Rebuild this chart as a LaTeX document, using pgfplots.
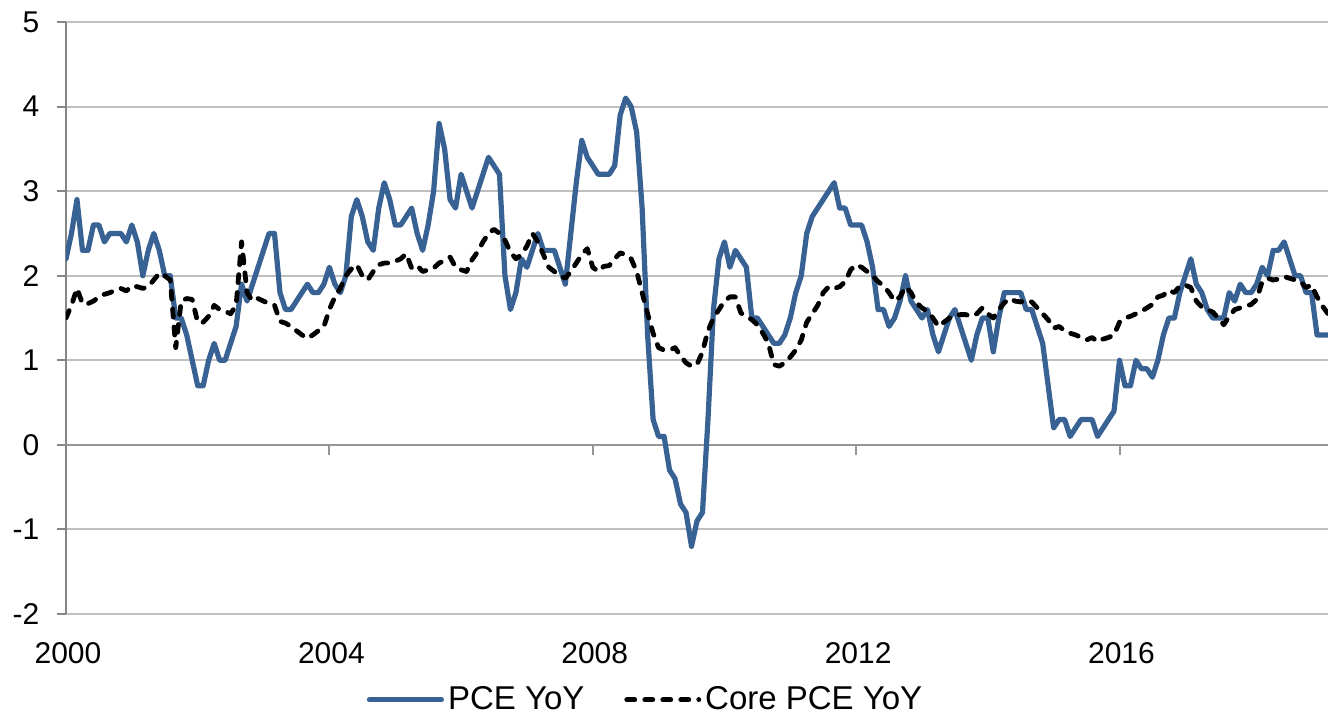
\documentclass[border=0pt]{standalone}
\usepackage{fontspec}
\setmainfont{Liberation Sans}
\usepackage{pgfplots}
\usepackage{pgfplotstable}
\pgfplotsset{compat=1.18}
\definecolor{pceblue}{RGB}{56,97,148}
\definecolor{gridgray}{RGB}{191,191,191}
\definecolor{axisgray}{RGB}{134,134,134}
\definecolor{zerogray}{RGB}{150,150,150}
\pgfplotstableread{
m pce core
0 2.2 1.50
1 2.5 1.65
2 2.9 1.85
3 2.3 1.67
4 2.3 1.67
5 2.6 1.70
6 2.6 1.75
7 2.4 1.78
8 2.5 1.80
9 2.5 1.83
10 2.5 1.85
11 2.4 1.82
12 2.6 1.88
13 2.4 1.87
14 2.0 1.85
15 2.3 1.87
16 2.5 1.95
17 2.3 2.03
18 2.0 2.00
19 2.0 1.95
20 1.5 1.15
21 1.5 1.70
22 1.3 1.73
23 1.0 1.72
24 0.7 1.45
25 0.7 1.45
26 1.0 1.52
27 1.2 1.65
28 1.0 1.60
29 1.0 1.58
30 1.2 1.55
31 1.4 1.65
32 1.9 2.40
33 1.7 1.80
34 1.9 1.70
35 2.1 1.73
36 2.3 1.70
37 2.5 1.67
38 2.5 1.65
39 1.8 1.46
40 1.6 1.44
41 1.6 1.40
42 1.7 1.35
43 1.8 1.30
44 1.9 1.26
45 1.8 1.30
46 1.8 1.35
47 1.9 1.40
48 2.1 1.60
49 1.9 1.75
50 1.8 1.85
51 2.0 2.00
52 2.7 2.08
53 2.9 2.13
54 2.7 2.00
55 2.4 1.95
56 2.3 2.05
57 2.8 2.13
58 3.1 2.15
59 2.9 2.15
60 2.6 2.17
61 2.6 2.20
62 2.7 2.26
63 2.8 2.09
64 2.5 2.12
65 2.3 2.05
66 2.6 2.07
67 3.0 2.09
68 3.8 2.15
69 3.5 2.18
70 2.9 2.22
71 2.8 2.10
72 3.2 2.07
73 3.0 2.05
74 2.8 2.19
75 3.0 2.28
76 3.2 2.40
77 3.4 2.50
78 3.3 2.55
79 3.2 2.50
80 2.0 2.42
81 1.6 2.28
82 1.8 2.20
83 2.2 2.25
84 2.1 2.35
85 2.3 2.50
86 2.5 2.40
87 2.3 2.25
88 2.3 2.10
89 2.3 2.05
90 2.1 2.00
91 1.9 1.97
92 2.5 2.05
93 3.1 2.15
94 3.6 2.25
95 3.4 2.32
96 3.3 2.10
97 3.2 2.05
98 3.2 2.11
99 3.2 2.12
100 3.3 2.20
101 3.9 2.27
102 4.1 2.25
103 4.0 2.20
104 3.7 2.05
105 2.8 1.80
106 1.3 1.55
107 0.3 1.32
108 0.1 1.15
109 0.1 1.12
110 -0.3 1.12
111 -0.4 1.15
112 -0.7 1.05
113 -0.8 0.97
114 -1.2 0.93
115 -0.9 0.95
116 -0.8 1.10
117 0.3 1.35
118 1.6 1.50
119 2.2 1.60
120 2.4 1.70
121 2.1 1.75
122 2.3 1.75
123 2.2 1.56
124 2.1 1.52
125 1.5 1.48
126 1.5 1.42
127 1.4 1.32
128 1.3 1.20
129 1.2 0.95
130 1.2 0.93
131 1.3 0.97
132 1.5 1.04
133 1.8 1.12
134 2.0 1.24
135 2.5 1.45
136 2.7 1.55
137 2.8 1.65
138 2.9 1.80
139 3.0 1.87
140 3.1 1.85
141 2.8 1.87
142 2.8 1.93
143 2.6 2.07
144 2.6 2.13
145 2.6 2.10
146 2.4 2.05
147 2.1 2.00
148 1.6 1.93
149 1.6 1.88
150 1.4 1.80
151 1.5 1.70
152 1.7 1.75
153 2.0 1.87
154 1.7 1.80
155 1.6 1.68
156 1.5 1.62
157 1.6 1.58
158 1.3 1.50
159 1.1 1.40
160 1.3 1.45
161 1.5 1.50
162 1.6 1.53
163 1.4 1.54
164 1.2 1.54
165 1.0 1.52
166 1.3 1.55
167 1.5 1.62
168 1.5 1.55
169 1.1 1.50
170 1.5 1.60
171 1.8 1.68
172 1.8 1.73
173 1.8 1.70
174 1.8 1.69
175 1.6 1.71
176 1.6 1.69
177 1.4 1.62
178 1.2 1.55
179 0.7 1.48
180 0.2 1.38
181 0.3 1.40
182 0.3 1.35
183 0.1 1.32
184 0.2 1.30
185 0.3 1.27
186 0.3 1.24
187 0.3 1.27
188 0.1 1.22
189 0.2 1.25
190 0.3 1.27
191 0.4 1.30
192 1.0 1.45
193 0.7 1.50
194 0.7 1.52
195 1.0 1.55
196 0.9 1.58
197 0.9 1.62
198 0.8 1.66
199 1.0 1.75
200 1.3 1.77
201 1.5 1.83
202 1.5 1.80
203 1.8 1.88
204 2.0 1.89
205 2.2 1.86
206 1.9 1.70
207 1.8 1.63
208 1.6 1.60
209 1.5 1.57
210 1.5 1.50
211 1.5 1.42
212 1.8 1.52
213 1.7 1.60
214 1.9 1.62
215 1.8 1.64
216 1.8 1.66
217 1.9 1.72
218 2.1 1.93
219 2.0 1.97
220 2.3 1.95
221 2.3 1.96
222 2.4 1.99
223 2.2 1.97
224 2.0 1.95
225 2.0 1.93
226 1.8 1.86
227 1.8 1.89
228 1.3 1.75
229 1.3 1.64
230 1.3 1.55
}\data
\begin{document}
\begin{tikzpicture}
\useasboundingbox (-33pt,-50pt) rectangle (631pt,307pt);
\begin{axis}[
  at={(0pt,0pt)}, anchor=south west,
  scale only axis, width=631pt, height=296pt,
  xmin=0, xmax=230, ymin=-2, ymax=5,
  separate axis lines,
  axis x line*=bottom, axis y line*=left,
  x axis line style={draw=gridgray, line width=1pt, -},
  y axis line style={draw=axisgray, line width=1pt, -},
  ytick={-2,-1,0,1,2,3,4,5},
  yticklabels={-2,-1,0,1,2,3,4,5},
  xtick={0,48,96,144,192},
  xticklabels={2000,2004,2008,2012,2016},
  ymajorgrids, grid style={draw=gridgray, line width=1pt},
  tick align=outside, major tick length=4.5pt,
  xtick style={draw=none},
  ytick style={draw=axisgray, line width=1pt},
  tick label style={font=\fontsize{15}{18}\selectfont, text=black},
  yticklabel style={xshift=-5.3pt},
  xticklabel style={yshift=-6.2pt, xshift=1pt},
  legend columns=2,
  legend style={at={(0.46,-0.145)}, anchor=center, draw=none, fill=none,
    font=\fontsize{16.5}{19}\selectfont,
    /tikz/every even column/.append style={column sep=18pt}},
  legend image code/.code={\draw[#1] (0pt,0pt) -- (36pt,0pt);},
]
\draw[zerogray, line width=1.25pt] (axis cs:0,0) -- (axis cs:230,0);
\pgfplotsinvokeforeach{48,96,144,192}{\draw[zerogray, line width=1pt] (axis cs:#1,0) -- (axis cs:#1,-0.12);}
\addplot[pceblue, line width=2.6pt, line join=round, line cap=round] table[x=m,y=pce]{\data};
\addplot[black, line width=2.4pt, dash pattern=on 4pt off 5pt, line cap=round, line join=round] table[x=m,y=core]{\data};
\legend{PCE YoY, Core PCE YoY}
\end{axis}
\end{tikzpicture}
\end{document}
